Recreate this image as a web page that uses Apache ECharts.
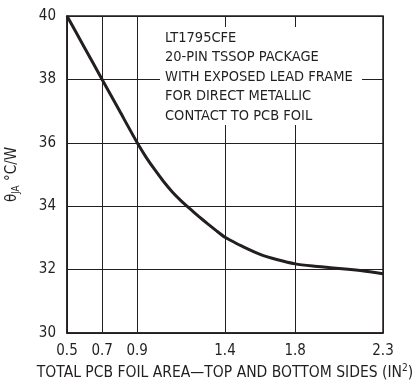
<!DOCTYPE html>
<html>
<head>
<meta charset="utf-8">
<script src="https://cdn.jsdelivr.net/npm/echarts@6/dist/echarts.min.js"></script>
<style>
  html, body { margin: 0; padding: 0; background: #fff; }
  #chart { width: 414px; height: 381px; }
</style>
</head>
<body>
<div id="chart"></div>
<script>
// Thermal resistance vs. total PCB foil area
const areaIn2 = [0.5, 0.6, 0.7, 0.8, 0.9, 0.95, 1.0, 1.05, 1.1, 1.15, 1.2, 1.25, 1.3, 1.35, 1.4, 1.45, 1.5, 1.6, 1.7, 1.8, 1.9, 2.0, 2.1, 2.2, 2.3];
const thetaJA = [40, 39, 38, 37, 36, 35.55, 35.15, 34.78, 34.45, 34.17, 33.92, 33.68, 33.45, 33.23, 33.02, 32.87, 32.73, 32.48, 32.31, 32.18, 32.11, 32.06, 32.01, 31.95, 31.87];
const xTickValues = [0.5, 0.7, 0.9, 1.4, 1.8, 2.3];
const noteLines = [
  'LT1795CFE',
  '20-PIN TSSOP PACKAGE',
  'WITH EXPOSED LEAD FRAME',
  'FOR DIRECT METALLIC',
  'CONTACT TO PCB FOIL'
];

const FONT = '"Liberation Sans Narrow", "DejaVu Sans Condensed", "Liberation Sans", sans-serif';
const INK = '#231f20';

const chart = echarts.init(document.getElementById('chart'), null, { renderer: 'canvas' });

chart.setOption({
  backgroundColor: '#fff',
  animation: false,
  grid: {
    left: 67, top: 16, right: 31, bottom: 48,
    outerBoundsMode: 'none',
    containLabel: false,
    show: true, borderColor: INK, borderWidth: 1.5
  },
  xAxis: {
    type: 'value',
    min: 0.5,
    max: 2.3,
    name: 'TOTAL PCB FOIL AREA\u2014TOP AND BOTTOM SIDES (IN{sup|2})',
    nameLocation: 'middle',
    nameGap: 30,
    nameTextStyle: {
      fontFamily: FONT, fontSize: 15.5, color: INK,
      rich: { sup: { fontFamily: FONT, fontSize: 10, color: INK, padding: [0, 0, 9, 0] } }
    },
    axisLine: { show: true, lineStyle: { color: INK, width: 1.5 } },
    axisTick: { show: false, customValues: xTickValues },
    axisLabel: {
      customValues: xTickValues,
      fontFamily: FONT, fontSize: 15, color: INK, margin: 11,
      formatter: v => v.toFixed(1)
    },
    splitLine: { show: true, lineStyle: { color: INK, width: 1 } }
  },
  yAxis: {
    type: 'value',
    min: 30,
    max: 40,
    interval: 2,
    name: '\u03b8{sub|JA} \u00b0C/W',
    nameLocation: 'middle',
    nameRotate: 90,
    nameGap: 46,
    nameTextStyle: {
      fontFamily: FONT, fontSize: 15, color: INK,
      rich: { sub: { fontFamily: FONT, fontSize: 10, color: INK, padding: [8, 0, 0, 0] } }
    },
    axisLine: { show: true, lineStyle: { color: INK, width: 1.5 } },
    axisTick: { show: false },
    axisLabel: { fontFamily: FONT, fontSize: 15, color: INK, margin: 11 },
    splitLine: { show: true, lineStyle: { color: INK, width: 1 } }
  },
  series: [{
    type: 'line',
    data: areaIn2.map((x, i) => [x, thetaJA[i]]),
    smooth: 0.2,
    showSymbol: false,
    lineStyle: { color: INK, width: 3 },
    z: 5
  }],
  graphic: [{
    type: 'group',
    left: 160,
    top: 27,
    z: 100,
    children: [{
      type: 'rect',
      z: 100,
      shape: { x: 0, y: 0, width: 202, height: 98 },
      style: { fill: '#fff' }
    }, {
      type: 'text',
      z: 101,
      x: 5,
      y: 1,
      style: {
        text: noteLines.join('\n'),
        fontFamily: FONT,
        fontSize: 14.5,
        lineHeight: 19.5,
        fill: INK,
        textAlign: 'left',
        textVerticalAlign: 'top'
      }
    }]
  }]
});
</script>
</body>
</html>
